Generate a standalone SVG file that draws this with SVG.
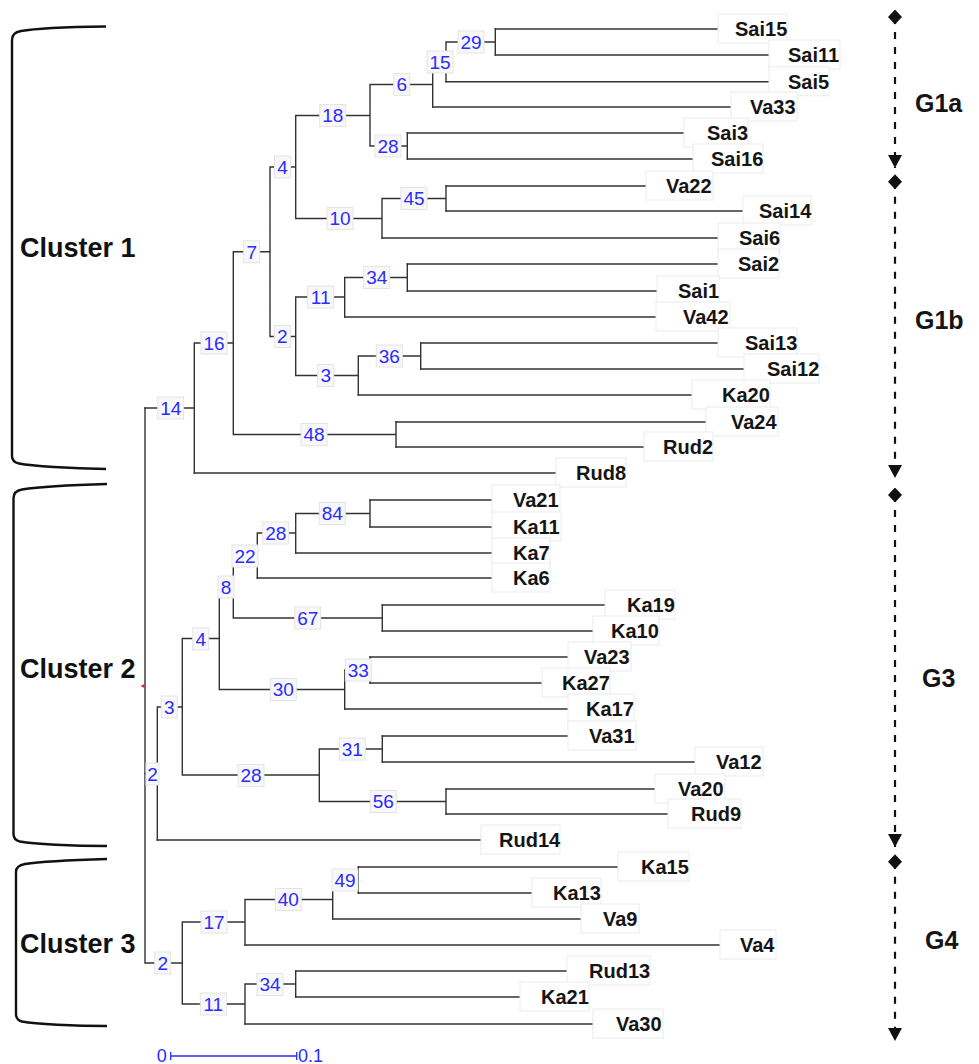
<svg xmlns="http://www.w3.org/2000/svg" width="979" height="1064" viewBox="0 0 979 1064">
<style>
.br{stroke:#333;stroke-width:1.4;fill:none;stroke-linecap:square}
.bb{fill:#f8f8f8;stroke:#e4e4e4;stroke-width:1}
.bs{font-family:"Liberation Sans",Arial,sans-serif;font-size:19px;fill:#2b2bff;text-anchor:middle}
.lb{fill:#fff;stroke:#ebebeb;stroke-width:1}
.lf{font-family:"Liberation Sans",Arial,sans-serif;font-weight:bold;font-size:20px;fill:#151515}
.gl{font-family:"Liberation Sans",Arial,sans-serif;font-weight:bold;font-size:25px;fill:#151515}
.cl{font-family:"Liberation Sans",Arial,sans-serif;font-weight:bold;font-size:27px;fill:#111}
.bk{stroke:#111;stroke-width:2.4;fill:none}
.da{stroke:#111;stroke-width:2.2;stroke-dasharray:7 8;fill:none;marker-start:url(#dia);marker-end:url(#tri)}
.sc{stroke:#2b2bff;stroke-width:1.3;fill:none}
.st{font-family:"Liberation Sans",Arial,sans-serif;font-size:18px;fill:#2b2bff}
</style>
<defs>
<marker id="tri" markerUnits="userSpaceOnUse" markerWidth="16" markerHeight="16" refX="13" refY="7" orient="auto"><path d="M0,0 L13,7 L0,14 Z" fill="#111"/></marker>
<marker id="dia" markerUnits="userSpaceOnUse" markerWidth="16" markerHeight="16" refX="7.5" refY="7.5" orient="auto"><path d="M0,7.5 L7.5,0.5 L15,7.5 L7.5,14.5 Z" fill="#111"/></marker>
</defs>
<rect width="979" height="1064" fill="#fff"/>

<g id="brackets">
<path class="bk" d="M106,26.5 C70,27 32,29 21,31 Q12,32.5 12,40 L12,456 Q12,462 19,463.5 C32,466 70,468.5 106,469"/>
<path class="bk" d="M107,484 C72,485 35,487.5 22,489.5 Q13.5,491 13.5,498 L13.5,834 Q13.5,840 20,841.5 C34,844 72,846 107,846"/>
<path class="bk" d="M107,859 C74,860 38,862 25,864 Q16,865.5 16,872 L16,1014 Q16,1020 22,1021.5 C36,1024 74,1026 107,1026"/>
</g>
<g id="cluster-labels">
<text class="cl" x="20" y="257">Cluster 1</text>
<text class="cl" x="20" y="678">Cluster 2</text>
<text class="cl" x="20" y="953">Cluster 3</text>
</g>

<g id="connectors">
<path class="br" d="M446,42H495.3 M495.3,29V55 M432.7,62H446 M446,42V81.7 M370,84.5H432.7 M432.7,62V107 M370,146H407.3 M407.3,133V159 M295.7,115.5H370 M370,84.5V146 M382,198.5H446 M446,186V211 M295.7,218.5H382 M382,198.5V238 M270,167H295.7 M295.7,115.5V218.5 M344.7,277.5H407.3 M407.3,264V291 M295.7,297H344.7 M344.7,277.5V317 M358.3,356H420.7 M420.7,343V369 M295.7,375.5H358.3 M358.3,356V395 M270,336.5H295.7 M295.7,297V375.5 M233.3,251.7H270 M270,167V336.5 M233.3,434.5H396 M396,422V447 M194.3,343H233.3 M233.3,251.7V434.5 M145,408H194.3 M194.3,343V473"/>
<path class="br" d="M295.7,513.5H370 M370,500V527 M257.3,533H295.7 M295.7,513.5V553 M233.3,555.5H257.3 M257.3,533V578 M233.3,618H382.3 M382.3,605V631 M219.3,587H233.3 M233.3,555.5V618 M344.7,670H370 M370,657V683 M219.3,689.5H344.7 M344.7,670V709 M182.3,638.5H219.3 M219.3,587V689.5 M319.3,749H382.3 M382.3,736V762 M319.3,801.5H446 M446,789V814 M182.3,775H319.3 M319.3,749V801.5 M157.3,707H182.3 M182.3,638.5V775 M145,773.5H157.3 M157.3,707V840"/>
<path class="br" d="M332.7,880H358.3 M358.3,867V893 M245,899.5H332.7 M332.7,880V919 M182.3,922H245 M245,899.5V945 M245,984H295.7 M295.7,971V997 M182.3,1004H245 M245,984V1024 M145,963H182.3 M182.3,922V1004 M145,408V963"/>
<path class="br" d="M495.3,29H718 M495.3,55H769 M446,81.7H769 M432.7,107H731 M407.3,133H684 M407.3,159H693 M446,186H646 M446,211H743 M382,238H718 M407.3,264H718 M407.3,291H657 M344.7,317H656 M420.7,343H718 M420.7,369H744 M358.3,395H692 M396,422H706 M396,447H644 M194.3,473H556"/>
<path class="br" d="M370,500H492 M370,527H492 M295.7,553H492 M257.3,578H492 M382.3,605H605 M382.3,631H593 M370,657H568 M370,683H542 M344.7,709H568 M382.3,736H568 M382.3,762H695 M446,789H655 M446,814H668 M157.3,840H481 M358.3,867H618 M358.3,893H532 M332.7,919H581 M245,945H720 M295.7,971H567 M295.7,997H520 M245,1024H593"/>
<path d="M140.5,686 L144.5,684 L144.5,688 Z" fill="#e02020"/>
</g>

<g id="n29"><rect class="bb" x="458" y="31" width="26" height="22"/><text class="bs" x="471" y="48.8">29</text></g>
<g id="n15"><rect class="bb" x="427" y="51" width="26" height="22"/><text class="bs" x="440" y="68.8">15</text></g>
<g id="n6"><rect class="bb" x="393.7" y="73.5" width="16" height="22"/><text class="bs" x="401.7" y="91.3">6</text></g>
<g id="n28a"><rect class="bb" x="375" y="135" width="26" height="22"/><text class="bs" x="388" y="152.8">28</text></g>
<g id="n18"><rect class="bb" x="319.7" y="104.5" width="26" height="22"/><text class="bs" x="332.7" y="122.3">18</text></g>
<g id="n45"><rect class="bb" x="401" y="187.5" width="26" height="22"/><text class="bs" x="414" y="205.3">45</text></g>
<g id="n10"><rect class="bb" x="327" y="207.5" width="26" height="22"/><text class="bs" x="340" y="225.3">10</text></g>
<g id="n4a"><rect class="bb" x="274.5" y="156" width="16" height="22"/><text class="bs" x="282.5" y="173.8">4</text></g>
<g id="n34a"><rect class="bb" x="363.7" y="266.5" width="26" height="22"/><text class="bs" x="376.7" y="284.3">34</text></g>
<g id="n11a"><rect class="bb" x="307.7" y="286" width="26" height="22"/><text class="bs" x="320.7" y="303.8">11</text></g>
<g id="n36"><rect class="bb" x="376.3" y="345" width="26" height="22"/><text class="bs" x="389.3" y="362.8">36</text></g>
<g id="n3a"><rect class="bb" x="317.7" y="364.5" width="16" height="22"/><text class="bs" x="325.7" y="382.3">3</text></g>
<g id="n2a"><rect class="bb" x="274.3" y="325.5" width="16" height="22"/><text class="bs" x="282.3" y="343.3">2</text></g>
<g id="n7"><rect class="bb" x="243.7" y="240.7" width="16" height="22"/><text class="bs" x="251.7" y="258.5">7</text></g>
<g id="n48"><rect class="bb" x="301" y="423.5" width="26" height="22"/><text class="bs" x="314" y="441.3">48</text></g>
<g id="n16"><rect class="bb" x="201" y="332" width="26" height="22"/><text class="bs" x="214" y="349.8">16</text></g>
<g id="n14"><rect class="bb" x="157.7" y="397" width="26" height="22"/><text class="bs" x="170.7" y="414.8">14</text></g>
<g id="n84"><rect class="bb" x="319.3" y="502.5" width="26" height="22"/><text class="bs" x="332.3" y="520.3">84</text></g>
<g id="n28b"><rect class="bb" x="262.7" y="522" width="26" height="22"/><text class="bs" x="275.7" y="539.8">28</text></g>
<g id="n22"><rect class="bb" x="232" y="545" width="26" height="22"/><text class="bs" x="245" y="562.8">22</text></g>
<g id="n67"><rect class="bb" x="294.7" y="607" width="26" height="22"/><text class="bs" x="307.7" y="624.8">67</text></g>
<g id="n8"><rect class="bb" x="218" y="576" width="16" height="22"/><text class="bs" x="226" y="593.8">8</text></g>
<g id="n33"><rect class="bb" x="345.3" y="659" width="26" height="22"/><text class="bs" x="358.3" y="676.8">33</text></g>
<g id="n30"><rect class="bb" x="270.3" y="678.5" width="26" height="22"/><text class="bs" x="283.3" y="696.3">30</text></g>
<g id="n4b"><rect class="bb" x="192.7" y="628" width="16" height="22"/><text class="bs" x="200.7" y="645.8">4</text></g>
<g id="n31"><rect class="bb" x="339.3" y="738" width="26" height="22"/><text class="bs" x="352.3" y="755.8">31</text></g>
<g id="n56"><rect class="bb" x="370.3" y="790.5" width="26" height="22"/><text class="bs" x="383.3" y="808.3">56</text></g>
<g id="n28c"><rect class="bb" x="238" y="764.5" width="26" height="22"/><text class="bs" x="251" y="782.3">28</text></g>
<g id="n3b"><rect class="bb" x="161.3" y="696" width="16" height="22"/><text class="bs" x="169.3" y="713.8">3</text></g>
<g id="n2b"><rect class="bb" x="146" y="763" width="13" height="22"/><text class="bs" x="152.5" y="780.8">2</text></g>
<g id="n49"><rect class="bb" x="332" y="869" width="26" height="22"/><text class="bs" x="345" y="886.8">49</text></g>
<g id="n40"><rect class="bb" x="275.3" y="888.5" width="26" height="22"/><text class="bs" x="288.3" y="906.3">40</text></g>
<g id="n17"><rect class="bb" x="201" y="911" width="26" height="22"/><text class="bs" x="214" y="928.8">17</text></g>
<g id="n34b"><rect class="bb" x="257" y="973.5" width="26" height="22"/><text class="bs" x="270" y="991.3">34</text></g>
<g id="n11b"><rect class="bb" x="200.3" y="993" width="26" height="22"/><text class="bs" x="213.3" y="1010.8">11</text></g>
<g id="n2c"><rect class="bb" x="154.7" y="952" width="16" height="22"/><text class="bs" x="162.7" y="969.8">2</text></g>

<g id="Sai15"><rect class="lb" x="718" y="14" width="69" height="29"/><text class="lf" x="735" y="36">Sai15</text></g>
<g id="Sai11"><rect class="lb" x="769" y="40" width="71" height="29"/><text class="lf" x="788" y="62">Sai11</text></g>
<g id="Sai5"><rect class="lb" x="769" y="66.7" width="60" height="29"/><text class="lf" x="788" y="88.7">Sai5</text></g>
<g id="Va33"><rect class="lb" x="731" y="92" width="66" height="29"/><text class="lf" x="750" y="114">Va33</text></g>
<g id="Sai3"><rect class="lb" x="684" y="118" width="64" height="29"/><text class="lf" x="707" y="140">Sai3</text></g>
<g id="Sai16"><rect class="lb" x="693" y="144" width="70" height="29"/><text class="lf" x="711" y="166">Sai16</text></g>
<g id="Va22"><rect class="lb" x="646" y="171" width="67" height="29"/><text class="lf" x="666" y="193">Va22</text></g>
<g id="Sai14"><rect class="lb" x="743" y="196" width="68" height="29"/><text class="lf" x="759" y="218">Sai14</text></g>
<g id="Sai6"><rect class="lb" x="718" y="223" width="62" height="29"/><text class="lf" x="739" y="245">Sai6</text></g>
<g id="Sai2"><rect class="lb" x="718" y="249" width="61" height="29"/><text class="lf" x="738" y="271">Sai2</text></g>
<g id="Sai1"><rect class="lb" x="657" y="276" width="62" height="29"/><text class="lf" x="678" y="298">Sai1</text></g>
<g id="Va42"><rect class="lb" x="656" y="302" width="74" height="29"/><text class="lf" x="683" y="324">Va42</text></g>
<g id="Sai13"><rect class="lb" x="718" y="328" width="79" height="29"/><text class="lf" x="745" y="350">Sai13</text></g>
<g id="Sai12"><rect class="lb" x="744" y="354" width="75" height="29"/><text class="lf" x="767" y="376">Sai12</text></g>
<g id="Ka20"><rect class="lb" x="692" y="380" width="78" height="29"/><text class="lf" x="722" y="402">Ka20</text></g>
<g id="Va24"><rect class="lb" x="706" y="407" width="72" height="29"/><text class="lf" x="731" y="429">Va24</text></g>
<g id="Rud2"><rect class="lb" x="644" y="432" width="69" height="29"/><text class="lf" x="663" y="454">Rud2</text></g>
<g id="Rud8"><rect class="lb" x="556" y="458" width="70" height="29"/><text class="lf" x="576" y="480">Rud8</text></g>
<g id="Va21"><rect class="lb" x="492" y="485" width="68" height="29"/><text class="lf" x="513" y="507">Va21</text></g>
<g id="Ka11"><rect class="lb" x="492" y="512" width="69" height="29"/><text class="lf" x="513" y="534">Ka11</text></g>
<g id="Ka7"><rect class="lb" x="492" y="538" width="58" height="29"/><text class="lf" x="513" y="560">Ka7</text></g>
<g id="Ka6"><rect class="lb" x="492" y="563" width="58" height="29"/><text class="lf" x="513" y="585">Ka6</text></g>
<g id="Ka19"><rect class="lb" x="605" y="590" width="70" height="29"/><text class="lf" x="627" y="612">Ka19</text></g>
<g id="Ka10"><rect class="lb" x="593" y="616" width="66" height="29"/><text class="lf" x="611" y="638">Ka10</text></g>
<g id="Va23"><rect class="lb" x="568" y="642" width="63" height="29"/><text class="lf" x="584" y="664">Va23</text></g>
<g id="Ka27"><rect class="lb" x="542" y="668" width="68" height="29"/><text class="lf" x="562" y="690">Ka27</text></g>
<g id="Ka17"><rect class="lb" x="568" y="694" width="66" height="29"/><text class="lf" x="586" y="716">Ka17</text></g>
<g id="Va31"><rect class="lb" x="568" y="721" width="68" height="29"/><text class="lf" x="589" y="743">Va31</text></g>
<g id="Va12"><rect class="lb" x="695" y="747" width="68" height="29"/><text class="lf" x="716" y="769">Va12</text></g>
<g id="Va20"><rect class="lb" x="655" y="774" width="70" height="29"/><text class="lf" x="678" y="796">Va20</text></g>
<g id="Rud9"><rect class="lb" x="668" y="799" width="73" height="29"/><text class="lf" x="691" y="821">Rud9</text></g>
<g id="Rud14"><rect class="lb" x="481" y="825" width="79" height="29"/><text class="lf" x="499" y="847">Rud14</text></g>
<g id="Ka15"><rect class="lb" x="618" y="852" width="71" height="29"/><text class="lf" x="641" y="874">Ka15</text></g>
<g id="Ka13"><rect class="lb" x="532" y="878" width="69" height="29"/><text class="lf" x="553" y="900">Ka13</text></g>
<g id="Va9"><rect class="lb" x="581" y="904" width="58" height="29"/><text class="lf" x="603" y="926">Va9</text></g>
<g id="Va4"><rect class="lb" x="720" y="930" width="56" height="29"/><text class="lf" x="740" y="952">Va4</text></g>
<g id="Rud13"><rect class="lb" x="567" y="956" width="83" height="29"/><text class="lf" x="589" y="978">Rud13</text></g>
<g id="Ka21"><rect class="lb" x="520" y="982" width="69" height="29"/><text class="lf" x="541" y="1004">Ka21</text></g>
<g id="Va30"><rect class="lb" x="593" y="1009" width="70" height="29"/><text class="lf" x="616" y="1031">Va30</text></g>

<g id="groups">
<path class="da" d="M895,17V168"/>
<path class="da" d="M895,181.7V478"/>
<path class="da" d="M895,495V847"/>
<path class="da" d="M895,861.7V1041"/>
<text class="gl" x="915" y="112">G1a</text>
<text class="gl" x="915" y="329">G1b</text>
<text class="gl" x="922" y="687">G3</text>
<text class="gl" x="925" y="949">G4</text>
</g>

<g id="scale-bar">
<path class="sc" d="M170.7,1056H296.7 M170.7,1052V1060 M296.7,1052V1060"/>
<text class="st" x="161.7" y="1062" text-anchor="middle">0</text>
<text class="st" x="298" y="1062">0.1</text>
</g>
</svg>
